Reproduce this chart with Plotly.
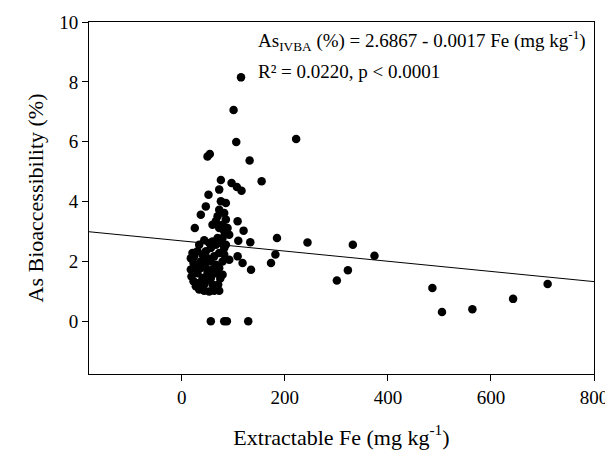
import plotly.graph_objects as go

# Extractable Fe (mg/kg) and As bioaccessibility (%)
fe = [
    20.8, 17.6, 22.8, 17.6, 18.9, 22.8, 27.3, 33.8, 43.5, 53.2, 63.0, 72.7, 70.7, 74.7, 79.2,
    33.8, 40.3, 30.5, 37.0, 27.3, 43.5, 50.0, 40.3, 30.5, 46.8, 56.5, 66.2, 75.9, 82.4, 72.7,
    63.0, 56.5, 66.2, 59.7, 50.0, 50.0, 59.7, 43.5, 82.4, 85.6, 79.2, 69.5, 59.7, 33.8, 53.2,
    24.1, 37.0, 46.8, 56.5, 66.2, 79.2, 72.7,
    115.0, 100.6, 105.8, 222.0, 50.0, 54.5, 131.7, 155.0, 75.9, 96.7, 107.0, 116.0, 72.7, 51.9,
    75.9, 85.6, 46.7, 37.0, 72.7, 69.5, 85.6, 108.4, 25.3, 120.0, 59.7, 72.7, 82.4, 92.1,
    184.8, 109.7, 133.0, 43.6, 92.2, 108.4, 118.0, 134.4, 181.7, 173.2,
    82.4, 66.2, 79.2, 88.9,
    56.4, 82.4, 87.6, 129.0,
    244.0, 332.0, 374.0, 322.4, 301.0, 486.4, 505.0, 564.0, 643.0, 710.0,
]
as_ivba = [
    2.28, 2.11, 1.95, 1.73, 1.50, 1.34, 1.17, 1.06, 1.02, 1.00, 1.02, 1.02, 1.23, 1.43, 1.56,
    1.28, 1.45, 1.61, 1.78, 1.84, 1.95, 2.11, 2.23, 2.34, 2.34, 2.45, 2.56, 2.62, 2.45, 2.28,
    2.17, 2.00, 1.89, 1.73, 1.61, 1.39, 1.23, 1.23, 2.23, 2.56, 2.78, 2.78, 2.67, 2.56, 2.62,
    2.17, 2.00, 1.78, 1.45, 1.61, 2.00, 1.78,
    8.15, 7.06, 5.99, 6.09, 5.51, 5.59, 5.37, 4.68, 4.72, 4.62, 4.49, 4.36, 4.40, 4.23,
    4.01, 3.95, 3.84, 3.56, 3.73, 3.51, 3.40, 3.34, 3.12, 3.03, 3.23, 3.12, 3.01, 2.89,
    2.78, 2.69, 2.64, 2.71, 2.06, 2.17, 1.95, 1.72, 2.23, 1.95,
    3.62, 3.34, 3.23, 3.12,
    0.0, 0.0, 0.0, 0.0,
    2.63, 2.56, 2.19, 1.71, 1.36, 1.11, 0.31, 0.40, 0.75, 1.25,
]

# Regression
intercept = 2.6867
slope = -0.0017
x_range = [-180, 800]
y_range = [-1.76, 10]
x_ticks = [0, 200, 400, 600, 800]
y_ticks = [0, 2, 4, 6, 8, 10]

FONT = "Liberation Serif, Times New Roman, serif"

fig = go.Figure()
fig.add_trace(go.Scatter(
    x=x_range, y=[intercept + slope * v for v in x_range],
    mode="lines", line=dict(color="black", width=1), showlegend=False, hoverinfo="skip",
))
fig.add_trace(go.Scatter(
    x=fe, y=as_ivba, mode="markers",
    marker=dict(color="black", size=8.5, line=dict(width=0)),
    showlegend=False,
))

axis_common = dict(
    showline=True, linecolor="black", linewidth=1, mirror=True,
    ticks="outside", ticklen=6, tickcolor="black", tickwidth=1,
    showgrid=False, zeroline=False, automargin=False,
    tickfont=dict(family=FONT, size=19, color="black"),
)

fig.update_layout(
    width=613, height=457, autosize=False,
    margin=dict(l=81, r=27, t=14, b=91),
    paper_bgcolor="white", plot_bgcolor="white",
    font=dict(family=FONT, color="black"),
    xaxis=dict(range=x_range, tickvals=x_ticks,
               title=dict(text="Extractable Fe (mg kg<sup>-1</sup>)",
                          font=dict(family=FONT, size=22), standoff=22),
               **axis_common),
    yaxis=dict(range=y_range, tickvals=y_ticks,
               title=dict(text="As Bioaccessibility (%)",
                          font=dict(family=FONT, size=22), standoff=9),
               **axis_common),
    annotations=[
        dict(x=145, y=9.37, xref="x", yref="y", xanchor="left", yanchor="middle",
             text="As<sub>IVBA</sub> (%) = 2.6867 - 0.0017 Fe (mg kg<sup>-1</sup>)",
             showarrow=False, font=dict(family=FONT, size=19, color="black")),
        dict(x=145, y=8.36, xref="x", yref="y", xanchor="left", yanchor="middle",
             text="R² = 0.0220, p &lt; 0.0001",
             showarrow=False, font=dict(family=FONT, size=19, color="black")),
    ],
)

fig.write_html("out.html")
